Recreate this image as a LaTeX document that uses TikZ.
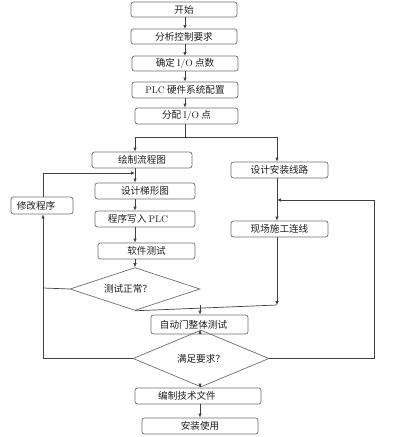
\documentclass[tikz,border=0pt]{standalone}
\usepackage{fontspec}
\newfontfamily\cjk{Noto Sans CJK SC}
\usetikzlibrary{arrows.meta,shapes.geometric}
\definecolor{boxc}{HTML}{6E6E6E}
\definecolor{linec}{HTML}{404040}
\definecolor{txtc}{HTML}{1E1E1E}
\newcommand{\lat}[1]{{\rmfamily #1}}
\begin{document}
\begin{tikzpicture}[x=1pt,y=-1pt,
  every node/.style={font=\cjk\fontsize{9.6}{11}\selectfont, text=txtc},
  procbox/.style={draw=boxc, line width=0.7pt, rounded corners=2.5pt, inner sep=0pt, minimum width=#1},
  procbox/.default=100pt,
  decide/.style={draw=boxc, line width=0.7pt, diamond, inner sep=0pt, minimum width=#1},
  conn/.style={draw=linec, line width=0.7pt},
  arr/.style={conn, -{Latex[length=4pt,width=3.5pt]}}
]
\useasboundingbox (0,0) rectangle (402,437);
% main column
\node[procbox=106pt, minimum height=15pt] (start) at (184,9.5) {开始};
\node[procbox=106pt, minimum height=15pt] (anal) at (184,36.5) {分析控制要求};
\node[procbox=106pt, minimum height=15pt] (iop) at (185,63.5) {确定 \lat{I/O} 点数};
\node[procbox=106pt, minimum height=16pt] (plc) at (185,90) {\lat{PLC} 硬件系统配置};
\node[procbox=103pt, minimum height=16pt] (assign) at (186.5,116) {分配 \lat{I/O} 点};
% left column
\node[procbox=100pt, minimum height=16pt] (flow) at (142,160) {绘制流程图};
\node[procbox=100pt, minimum height=16pt] (ladder) at (145,191) {设计梯形图};
\node[procbox=100pt, minimum height=16pt] (write) at (145,219) {\hspace*{-14pt}程序写入 \lat{PLC}};
\node[procbox=97pt, minimum height=16pt] (soft) at (146.5,251) {软件测试};
\node[decide=130pt, minimum height=30pt] (test) at (135,289) {\hspace*{-14pt}测试正常？};
\node[procbox=62pt, minimum height=17pt] (modify) at (42,205.5) {\hspace*{-12pt}修改程序};
% right column
\node[procbox=97pt, minimum height=16pt] (design) at (279.5,170) {设计安装线路};
\node[procbox=97pt, minimum height=16pt] (site) at (279.5,229) {现场施工连线};
% bottom
\node[procbox=97pt, minimum height=19pt] (whole) at (199.5,324.5) {\hspace*{-12pt}自动门整体测试};
\node[decide=136pt, minimum height=29pt] (sat) at (201,358.5) {满足要求？};
\node[procbox=126pt, minimum height=16pt] (doc) at (198,396) {\hspace*{-22pt}编制技术文件};
\node[procbox=116pt, minimum height=16pt] (inst) at (200,426) {安装使用};
% junction coordinates
\coordinate (split) at (185,137);
\coordinate (splitL) at (135,137);
\coordinate (splitR) at (277,137);
\coordinate (merge) at (135,305);
\coordinate (mergeR) at (277,305);
\coordinate (mergeC) at (200,305);
\coordinate (loopL) at (43,288);
\coordinate (loopLb) at (43,358.5);
\coordinate (loopLt) at (43,173);
\coordinate (loopLin) at (135,173);
\coordinate (loopR) at (374,358.5);
\coordinate (loopRt) at (374,200);
\coordinate (loopRin) at (277,200);
% main arrows
\draw[arr] (185,17) -- (185,29);
\draw[arr] (185,44) -- (185,56);
\draw[arr] (iop.south) -- (plc.north);
\draw[arr] (plc.south) -- (plc.south |- assign.north);
\draw[conn] (plc.south |- assign.south) -- (split);
\draw[conn] (splitL) -- (splitR);
\draw[arr] (splitL) -- (splitL |- flow.north);
\draw[arr] (splitR) -- (splitR |- design.north);
% left column
\draw[arr] (splitL |- flow.south) -- (splitL |- ladder.north);
\draw[arr] (splitL |- ladder.south) -- (splitL |- write.north);
\draw[arr] (splitL |- write.south) -- (splitL |- soft.north);
\draw[arr] (splitL |- soft.south) -- (test.north);
% modify loop
\draw[conn] (test.west) -- (loopL);
\draw[arr] (loopL) -- (modify.south -| loopL);
\draw[arr] (modify.north -| loopL) -- (loopLt) -- (loopLin);
% right column
\draw[arr] (splitR |- design.south) -- (splitR |- site.north);
\draw[arr] (splitR |- site.south) -- (mergeR);
% merge
\draw[conn] (test.south) -- (mergeR);
\draw[arr] (mergeC) -- (mergeC |- whole.north);
\draw[arr] (mergeC |- whole.south) -- (mergeC |- sat.north);
% satisfy loops
\draw[conn] (sat.west) -- (loopLb) -- (loopL);
\draw[arr] (sat.east) -- (loopR) -- (loopRt) -- (loopRin);
% end
\draw[arr] (mergeC |- sat.south) -- (mergeC |- doc.north);
\draw[arr] (mergeC |- doc.south) -- (mergeC |- inst.north);
\end{tikzpicture}
\end{document}
